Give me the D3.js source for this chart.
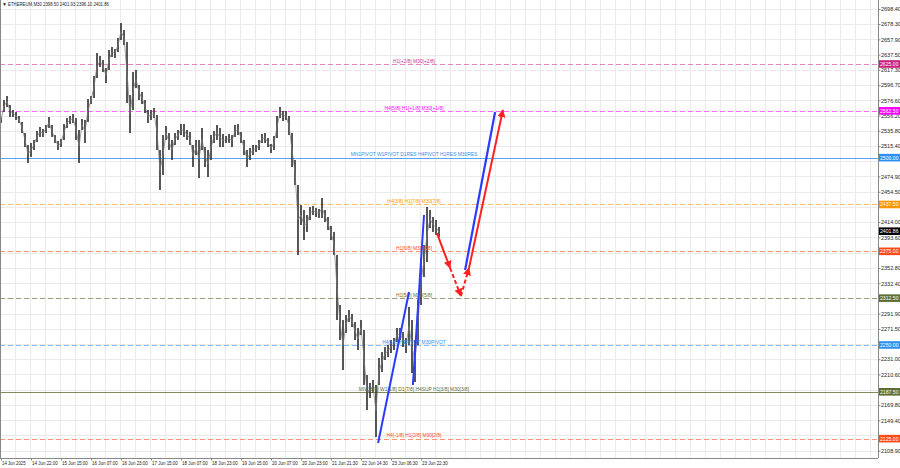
<!DOCTYPE html>
<html><head><meta charset="utf-8">
<script src="https://cdn.jsdelivr.net/npm/d3@7/dist/d3.min.js"></script>
<style>
html,body{margin:0;padding:0;background:#fff;}
svg{display:block;font-family:"Liberation Sans",Arial,sans-serif;}
</style></head>
<body><svg id="c" width="900" height="468"></svg>
<script>
// ---- data ----
const title = "ETHEREUM,M30  2398.50 2401.93 2396.10 2401.86";
const barHigh = [2554.3,2576.9,2582.3,2570.3,2563.6,2560.9,2555.6,2547.6,2532.9,2516.9,2519.6,2523.6,2535.6,2540.9,2538.2,2543.6,2554.3,2543.6,2530.2,2522.2,
2524.9,2544.9,2552.9,2555.6,2558.3,2552.9,2536.9,2551.6,2550.3,2578.3,2582.3,2609.0,2639.7,2635.7,2630.3,2619.6,2643.7,2647.7,2645.0,2659.7,
2679.7,2670.4,2654.3,2583.6,2614.3,2617.0,2597.0,2587.6,2576.9,2563.6,2563.6,2566.3,2556.9,2510.2,2530.2,2542.2,2532.9,2523.6,2532.9,2536.9,
2544.9,2544.9,2536.9,2534.2,2516.9,2523.6,2523.6,2539.6,2514.2,2510.2,2530.2,2535.6,2543.6,2539.6,2531.6,2528.9,2531.6,2530.2,2543.6,2544.9,
2534.2,2523.6,2510.2,2512.9,2516.9,2516.9,2523.6,2531.6,2532.9,2526.2,2518.2,2528.9,2555.6,2567.6,2562.3,2562.3,2555.6,2532.9,2496.9,2463.5,
2436.8,2430.1,2423.5,2434.2,2435.5,2432.8,2431.5,2446.2,2430.1,2420.8,2408.8,2400.8,2370.1,2303.4,2283.3,2290.0,2296.7,2291.4,2280.7,2272.7,
2283.3,2270.0,2209.9,2199.3,2203.3,2196.6,2232.6,2240.6,2247.3,2250.0,2256.6,2259.3,2272.7,2272.7,2267.3,2259.3,2300.7,2283.3,2256.6,2310.0,
2366.1,2383.4,2434.2,2430.1,2420.8,2416.8,2407.4];
const barLow = [2546.3,2560.9,2567.6,2554.3,2554.3,2550.3,2546.3,2532.9,2514.2,2492.9,2500.9,2510.2,2520.9,2527.6,2527.6,2532.9,2539.6,2527.6,2519.6,2510.2,
2514.2,2523.6,2539.6,2544.9,2546.3,2523.6,2492.9,2536.9,2519.6,2547.6,2571.6,2579.6,2606.3,2621.0,2614.3,2599.6,2617.0,2634.3,2633.0,2641.0,
2657.0,2650.3,2572.9,2532.9,2563.6,2593.0,2576.9,2571.6,2559.6,2546.3,2550.3,2552.9,2510.2,2456.8,2476.9,2523.6,2510.2,2496.9,2516.9,2523.6,
2530.2,2527.6,2523.6,2516.9,2487.5,2503.5,2472.8,2510.2,2487.5,2474.2,2496.9,2519.6,2523.6,2514.2,2514.2,2519.6,2519.6,2514.2,2527.6,2530.2,
2519.6,2503.5,2487.5,2496.9,2503.5,2507.5,2510.2,2519.6,2519.6,2514.2,2506.2,2510.2,2526.2,2552.9,2548.9,2550.3,2530.2,2487.5,2463.5,2370.1,
2410.1,2390.1,2400.8,2416.8,2423.5,2420.8,2419.5,2419.5,2414.1,2403.4,2390.1,2370.1,2283.3,2256.6,2216.6,2266.0,2280.7,2274.0,2256.6,2243.3,
2263.3,2196.6,2163.2,2179.2,2185.9,2127.2,2196.6,2213.9,2229.9,2233.9,2239.3,2243.3,2254.0,2256.6,2247.3,2239.3,2250.0,2212.6,2200.6,2250.0,
2303.4,2340.7,2360.7,2406.1,2400.8,2396.8,2394.1];
const timeLabels = ["14 Jun 2025","14 Jun 22:00","15 Jun 15:00","16 Jun 07:00","16 Jun 23:00","17 Jun 15:00","18 Jun 07:00","18 Jun 23:00","19 Jun 15:00","20 Jun 07:00","20 Jun 23:00","21 Jun 21:30","22 Jun 14:30","23 Jun 06:30","23 Jun 22:30"];
const priceTicks = [2698.40,2678.30,2657.90,2637.50,2617.30,2596.70,2576.60,2556.20,2535.80,2515.40,2495.10,2474.90,2454.50,2434.20,2414.00,2393.60,2373.20,2352.80,2332.40,2312.10,2291.90,2271.50,2251.20,2231.00,2210.60,2190.20,2169.80,2149.40,2129.30,2108.90];
const levelPrices = [2625.00,2562.50,2500.00,2437.50,2375.00,2312.50,2250.00,2187.50,2125.00];
const levelTexts = ["H1[+2/8] M30[+2/8]","H4[5/8] H1[+1/8] M30[+1/8]","MN1PIVOT W1PIVOT D1RES H4PIVOT H1RES M30RES","H4[3/8] H1[7/8] M30[7/8]","H1[6/8] M30[6/8]","H1[5/8] M30[5/8]","H4[1/8] H1PIVOT M30PIVOT","MN1[1/8] W1[1/8] D1[7/8] H4SUP H1[3/8] M30[3/8]","H4[-1/8] H1[2/8] M30[2/8]"];
const lastPrice = 2401.86;
// projection lines: [barIndex, price]
const blueThin1 = [[125.7,2119.2],[136.0,2320.7]];
const blueThin2 = [[137.3,2196.6],[141.0,2423.5]];
const blueBig = [[154.7,2350.1],[164.7,2560.9]];
const redSeg1 = [[145.3,2399.4],[149.7,2352.7]];
const redSeg2 = [[149.7,2352.7],[153.3,2315.4]];
const redSeg3 = [[153.3,2315.4],[156.0,2352.7]];
const redSeg4 = [[156.0,2352.7],[167.3,2563.6]];

// ---- styles ----
const levelColor = ["#d6309a","#ff00ff","#2f8ff0","#ff9500","#ff4a1a","#5f6e36","#2f8ff0","#5f6e36","#ff4a1a"];
const levelBox   = ["#c8207f","#ff00ff","#2f8ff0","#ff9500","#ff4a1a","#5f6e36","#2f8ff0","#5f6e36","#ff4a1a"];
const levelDash  = ["5,3","5,3",null,"5,3","5,3","5,3","5,3",null,"5,3"];

const W=900,H=468, plotR=878, plotB=458;
const svg = d3.select("#c");
svg.append("rect").attr("width",W).attr("height",H).attr("fill","#fff");

const x = d3.scaleLinear().domain([0,146]).range([1,439]);
const y = d3.scaleLinear().domain([2108.9,2698.4]).range([450.7,9]);

// grid
const g = svg.append("g");
g.selectAll("line.gh").data(priceTicks).join("line")
 .attr("x1",0).attr("x2",plotR).attr("y1",d=>Math.round(y(d))+0.5).attr("y2",d=>Math.round(y(d))+0.5)
 .attr("stroke","#ebebeb").attr("stroke-width",1);
const vgrid = d3.range(0,59).map(k=>k*5);
g.selectAll("line.gv").data(vgrid).join("line")
 .attr("x1",d=>Math.round(x(d))-0.5).attr("x2",d=>Math.round(x(d))-0.5).attr("y1",0).attr("y2",plotB)
 .attr("stroke","#ebebeb").attr("stroke-width",1);

// levels
const lv = svg.append("g");
levelPrices.forEach((p,i)=>{
  const yy = Math.round(y(p))+0.5;
  lv.append("line").attr("x1",0).attr("x2",plotR).attr("y1",yy).attr("y2",yy)
    .attr("stroke",levelColor[i]).attr("stroke-width",1).attr("stroke-opacity",levelDash[i]?0.6:0.8)
    .attr("stroke-dasharray",levelDash[i]);
});

// bars
const bars = svg.append("g");
bars.selectAll("rect").data(barHigh).join("rect")
 .attr("x",(d,i)=>x(i)-0.8).attr("width",1.6)
 .attr("y",d=>y(d)).attr("height",(d,i)=>Math.max(1,y(barLow[i])-y(d)))
 .attr("fill","#2e2e2e");
bars.append("path")
 .attr("d",d3.line().x((d,i)=>x(i)).y((d,i)=>y((d+barLow[i])/2))(barHigh))
 .attr("fill","none").attr("stroke","#777").attr("stroke-width",0.7);

// level texts
levelPrices.forEach((p,i)=>{
  svg.append("text").attr("x",414).attr("y",y(p)-1.3).attr("text-anchor","middle")
   .attr("font-size",4.9).attr("fill",levelColor[i]).text(levelTexts[i]);
});

// projection lines
const defs = svg.append("defs");
function marker(id,color){
  defs.append("marker").attr("id",id).attr("viewBox","0 0 10 10").attr("refX",9).attr("refY",5)
   .attr("markerWidth",4).attr("markerHeight",4).attr("orient","auto")
   .append("path").attr("d","M0,0L10,5L0,10z").attr("fill",color);
}
marker("ar","#ff2020");
const line = d3.line().x(d=>x(d[0])).y(d=>y(d[1]));
[blueThin1,blueThin2].forEach(s=>svg.append("path").attr("d",line(s)).attr("stroke","#2a3cff").attr("stroke-width",2).attr("fill","none"));
svg.append("path").attr("d",line(blueBig)).attr("stroke","#2a3cff").attr("stroke-width",2.2).attr("fill","none");
[[redSeg1,null],[redSeg2,"4,2.5"],[redSeg3,"4,2.5"],[redSeg4,null]].forEach(([s,dash])=>
  svg.append("path").attr("d",line(s)).attr("stroke","#ff2020").attr("stroke-width",2).attr("fill","none")
   .attr("stroke-dasharray",dash).attr("marker-end","url(#ar)"));

// frame
svg.append("line").attr("x1",plotR+0.5).attr("x2",plotR+0.5).attr("y1",0).attr("y2",plotB).attr("stroke","#888");
svg.append("line").attr("x1",0).attr("x2",plotR).attr("y1",plotB+0.5).attr("y2",plotB+0.5).attr("stroke","#888");
svg.append("line").attr("x1",0.5).attr("x2",0.5).attr("y1",0).attr("y2",plotB).attr("stroke","#888");

// right axis (labels hidden under level boxes are skipped)
const boxYs = levelPrices.concat([lastPrice]).map(p=>y(p));
const visTicks = priceTicks.filter(t=>boxYs.every(b=>Math.abs(y(t)-b)>=4));
const ya = d3.axisRight(y).tickValues(visTicks).tickFormat(d3.format(".2f")).tickSize(2);
const yg = svg.append("g").attr("transform",`translate(${plotR+0.5},0)`).call(ya);
yg.select(".domain").remove();
yg.selectAll("text").attr("font-size",5.5).attr("fill","#222").attr("x",2.5);
yg.selectAll("line").attr("stroke","#888");

// bottom axis
const xa = d3.axisBottom(x).tickValues(timeLabels.map((d,i)=>i*10)).tickFormat((d,i)=>timeLabels[i]).tickSize(2);
const xg = svg.append("g").attr("transform",`translate(0,${plotB+0.5})`).call(xa);
xg.select(".domain").remove();
xg.selectAll("text").attr("font-size",5.3).attr("fill","#222").attr("text-anchor","start").attr("dx",0.5).attr("y",3)
  .attr("textLength",(d,i)=>timeLabels[i].length*2.15).attr("lengthAdjust","spacingAndGlyphs");
xg.selectAll("line").attr("stroke","#888");

// level boxes on axis
function axisBox(p, fill){
  const yy=y(p);
  svg.append("rect").attr("x",plotR+1).attr("y",yy-3.8).attr("width",21).attr("height",7.6).attr("fill",fill);
  svg.append("text").attr("x",plotR+2).attr("y",yy+1.9).attr("font-size",5.3).attr("fill","#fff")
    .attr("textLength",18.5).attr("lengthAdjust","spacingAndGlyphs").text(d3.format(".2f")(p));
}
levelPrices.forEach((p,i)=>axisBox(p, levelBox[i]));
axisBox(lastPrice, "#000");

// title
svg.append("text").attr("x",2).attr("y",6).attr("font-size",5).attr("fill","#222").text("\u25BC");
svg.append("text").attr("x",8).attr("y",6).attr("font-size",5.3).attr("fill","#222").text(title)
  .attr("textLength",101).attr("lengthAdjust","spacingAndGlyphs");
</script></body></html>
